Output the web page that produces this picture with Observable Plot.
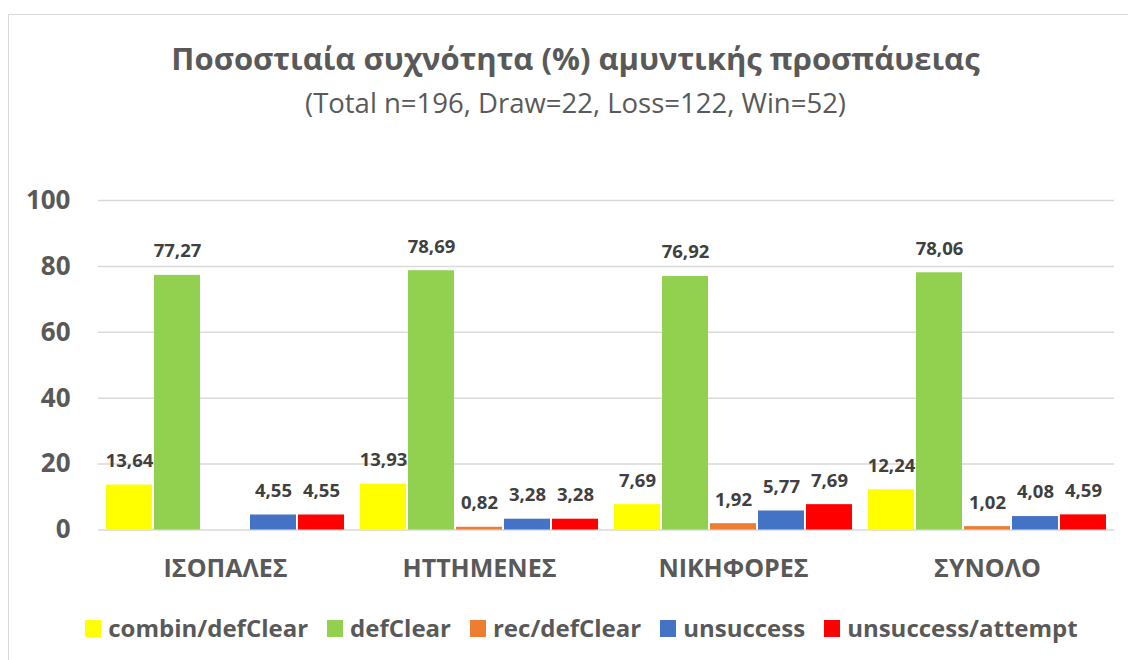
<!DOCTYPE html>
<html>
<head>
<meta charset="utf-8">
<script src="https://cdn.jsdelivr.net/npm/d3@7"></script>
<script src="https://cdn.jsdelivr.net/npm/@observablehq/plot@0.6"></script>
<style>
  html, body { margin: 0; padding: 0; background: #fff; width: 1128px; height: 660px; overflow: hidden; }
  body { position: relative; font-family: "Open Sans", "Noto Sans", sans-serif; color: #595959; }
  #frame { position: absolute; left: 8px; top: 14px; width: 1200px; height: 700px; border-left: 1px solid #d9d9d9; border-top: 1px solid #d9d9d9; }
  #title { position: absolute; left: 0; width: 1151px; top: 37px; text-align: center; font-weight: 700; font-size: 31px; line-height: 42px; white-space: nowrap; }
  #subtitle { position: absolute; left: 0; width: 1151px; top: 84px; text-align: center; font-weight: 400; font-size: 27.5px; line-height: 38px; white-space: nowrap; }
  #chart { position: absolute; left: 0; top: 150px; }
  #legend { position: absolute; left: 0; width: 1163px; top: 612px; display: flex; justify-content: center; align-items: center; font-weight: 700; font-size: 24px; line-height: 32px; white-space: nowrap; }
  .item { display: flex; align-items: center; margin: 0 9.5px; }
  .sw { width: 16px; height: 17px; margin-right: 7px; }
</style>
</head>
<body>
<div id="frame"></div>
<div id="title">Ποσοστιαία συχνότητα (%) αμυντικής προσπάυειας</div>
<div id="subtitle">(Total n=196, Draw=22, Loss=122, Win=52)</div>
<div id="chart"></div>
<div id="legend"></div>
<script>
// ---- data ----
const groups = ["ΙΣΟΠΑΛΕΣ", "ΗΤΤΗΜΕΝΕΣ", "ΝΙΚΗΦΟΡΕΣ", "ΣΥΝΟΛΟ"];
const series = ["combin/defClear", "defClear", "rec/defClear", "unsuccess", "unsuccess/attempt"];
const colors = ["#FFFF00", "#92D050", "#ED7D31", "#4472C4", "#FF0000"];
const combinDefClear   = [13.64, 13.93, 7.69, 12.24];
const defClear         = [77.27, 78.69, 76.92, 78.06];
const recDefClear      = [null, 0.82, 1.92, 1.02];
const unsuccess        = [4.55, 3.28, 5.77, 4.08];
const unsuccessAttempt = [4.55, 3.28, 7.69, 4.59];
const yTicks = [0, 20, 40, 60, 80, 100];

const seriesValues = [combinDefClear, defClear, recDefClear, unsuccess, unsuccessAttempt];
const data = [];
groups.forEach((g, gi) => {
  series.forEach((s, si) => {
    const v = seriesValues[si][gi];
    if (v != null) data.push({group: g, series: s, value: v});
  });
});
const fmt = v => d3.format(".2f")(v).replace(".", ",");

const chart = Plot.plot({
  width: 1128,
  height: 440,
  marginTop: 50,
  marginBottom: 60.5,
  marginLeft: 98,
  marginRight: 14,
  style: {fontFamily: "'Open Sans', 'Noto Sans', sans-serif", color: "#595959", background: "transparent", overflow: "visible"},
  fx: {domain: groups, padding: 0, label: null},
  x: {domain: series, paddingInner: 0.05, paddingOuter: 0.14, axis: null},
  y: {domain: [0, 100], axis: null},
  color: {domain: series, range: colors},
  marks: [
    Plot.gridY(yTicks, {stroke: "#d9d9d9", strokeOpacity: 1, strokeWidth: 1.5}),
    Plot.barY(data, {fx: "group", x: "series", y: "value", fill: "series"}),
    Plot.text(data, {fx: "group", x: "series", y: "value", text: d => fmt(d.value), dy: -24, fontSize: 18.5, fontWeight: 700, fill: "#404040"}),
    Plot.axisY({ticks: yTicks, tickSize: 0, tickPadding: 28, fontSize: 26, fontWeight: 700, label: null}),
    Plot.axisFx({anchor: "bottom", tickSize: 0, tickPadding: 29, fontSize: 25, fontWeight: 700, label: null})
  ]
});
document.getElementById("chart").appendChild(chart);

const legend = document.getElementById("legend");
series.forEach((s, i) => {
  const item = document.createElement("div");
  item.className = "item";
  const sw = document.createElement("span");
  sw.className = "sw";
  sw.style.background = colors[i];
  const t = document.createElement("span");
  t.textContent = s;
  item.appendChild(sw);
  item.appendChild(t);
  legend.appendChild(item);
});
</script>
</body>
</html>
